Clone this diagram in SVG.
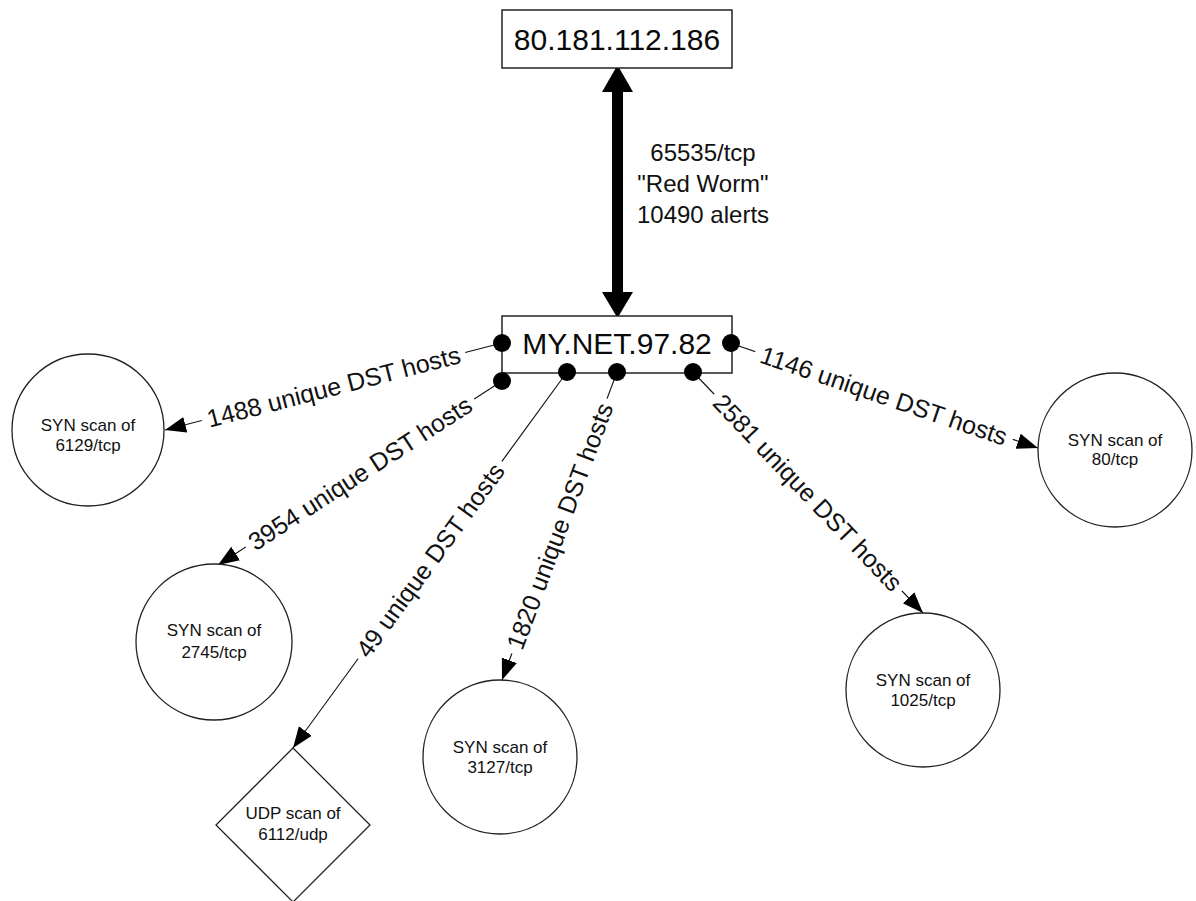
<svg xmlns="http://www.w3.org/2000/svg" width="1196" height="901" viewBox="0 0 1196 901">
<style>
  .box{fill:#fff;stroke:#222;stroke-width:1.5}
  .shape{fill:#fff;stroke:#222;stroke-width:1.3}
  .big{font-family:"Liberation Sans",Arial,sans-serif;font-size:30px;fill:#0a0a0a;text-anchor:middle}
  .nt{font-family:"Liberation Sans",Arial,sans-serif;font-size:17px;fill:#111;text-anchor:middle}
  .el{font-family:"Liberation Sans",Arial,sans-serif;font-size:25px;fill:#111;text-anchor:middle;dominant-baseline:central}
  .cl{font-family:"Liberation Sans",Arial,sans-serif;font-size:24px;fill:#111;text-anchor:middle}
  .edge{stroke:#111;stroke-width:1.1;fill:none;marker-end:url(#ah)}
  .bg{fill:#fff}
  .dot{fill:#000}
</style>
<defs>
  <marker id="ah" markerUnits="userSpaceOnUse" markerWidth="22" markerHeight="18" refX="21" refY="9" orient="auto">
    <path d="M0,1 L21,9 L0,17 z" fill="#000"/>
  </marker>
</defs>
<rect width="1196" height="901" fill="#fff"/>

<g id="connectors">
  <g id="e-redworm">
    <rect x="612" y="88" width="11" height="208" fill="#000"/>
    <polygon points="617.5,65 602,92 633,92" fill="#000"/>
    <polygon points="602,292 633,292 617.5,318" fill="#000"/>
    <text class="cl" x="703" y="161">65535/tcp</text>
    <text class="cl" x="703" y="192">"Red Worm"</text>
    <text class="cl" x="703" y="223">10490 alerts</text>
  </g>
  <line class="edge" x1="502" y1="343" x2="165" y2="430"/>
  <line class="edge" x1="730" y1="343" x2="1038" y2="448"/>
  <line class="edge" x1="502" y1="381" x2="218" y2="565"/>
  <line class="edge" x1="567" y1="372" x2="293" y2="748"/>
  <line class="edge" x1="617" y1="372" x2="502" y2="680"/>
  <line class="edge" x1="693" y1="372" x2="923" y2="613"/>
  <g transform="translate(333.5,386.5) rotate(-14.47)">
    <rect class="bg" x="-136" y="-14" width="272" height="28"/>
    <text class="el" x="0" y="0">1488 unique DST hosts</text>
  </g>
  <g transform="translate(884,395.5) rotate(18.82)">
    <rect class="bg" x="-136" y="-14" width="272" height="28"/>
    <text class="el" x="0" y="0">1146 unique DST hosts</text>
  </g>
  <g transform="translate(360,473) rotate(-32.94)">
    <rect class="bg" x="-136" y="-14" width="272" height="28"/>
    <text class="el" x="0" y="0">3954 unique DST hosts</text>
  </g>
  <g transform="translate(430,560) rotate(-53.92)">
    <rect class="bg" x="-122" y="-14" width="244" height="28"/>
    <text class="el" x="0" y="0">49 unique DST hosts</text>
  </g>
  <g transform="translate(559.5,526) rotate(-69.52)">
    <rect class="bg" x="-136" y="-14" width="272" height="28"/>
    <text class="el" x="0" y="0">1820 unique DST hosts</text>
  </g>
  <g transform="translate(808,492.5) rotate(46.34)">
    <rect class="bg" x="-136" y="-14" width="272" height="28"/>
    <text class="el" x="0" y="0">2581 unique DST hosts</text>
  </g>
</g>

<g id="node-remote">
  <rect class="box" x="502" y="10" width="230" height="58"/>
  <text class="big" x="617" y="50">80.181.112.186</text>
</g>

<g id="node-mynet">
  <rect class="box" x="502" y="316" width="230" height="57"/>
  <line x1="502" y1="373" x2="502" y2="381" stroke="#222" stroke-width="1.5"/>
  <text class="big" x="617" y="354">MY.NET.97.82</text>
  <circle class="dot" cx="502" cy="343" r="9"/>
  <circle class="dot" cx="731" cy="343" r="9"/>
  <circle class="dot" cx="502" cy="381" r="9"/>
  <circle class="dot" cx="567" cy="372" r="9"/>
  <circle class="dot" cx="617" cy="372" r="9"/>
  <circle class="dot" cx="693" cy="372" r="9"/>
</g>

<g id="node-6129">
  <circle class="shape" cx="88" cy="430" r="76"/>
  <text class="nt" x="88" y="431">SYN scan of</text>
  <text class="nt" x="88" y="451">6129/tcp</text>
</g>

<g id="node-80">
  <circle class="shape" cx="1115" cy="450" r="77"/>
  <text class="nt" x="1115" y="446">SYN scan of</text>
  <text class="nt" x="1115" y="465">80/tcp</text>
</g>

<g id="node-2745">
  <circle class="shape" cx="214" cy="642" r="78"/>
  <text class="nt" x="214" y="636">SYN scan of</text>
  <text class="nt" x="214" y="658">2745/tcp</text>
</g>

<g id="node-6112">
  <polygon class="shape" points="293,748 370,825 293,902 216,825"/>
  <text class="nt" x="293" y="819">UDP scan of</text>
  <text class="nt" x="293" y="840">6112/udp</text>
</g>

<g id="node-3127">
  <circle class="shape" cx="500" cy="757" r="77"/>
  <text class="nt" x="500" y="753">SYN scan of</text>
  <text class="nt" x="500" y="773">3127/tcp</text>
</g>

<g id="node-1025">
  <circle class="shape" cx="923" cy="690" r="77"/>
  <text class="nt" x="923" y="686">SYN scan of</text>
  <text class="nt" x="923" y="706">1025/tcp</text>
</g>
</svg>
